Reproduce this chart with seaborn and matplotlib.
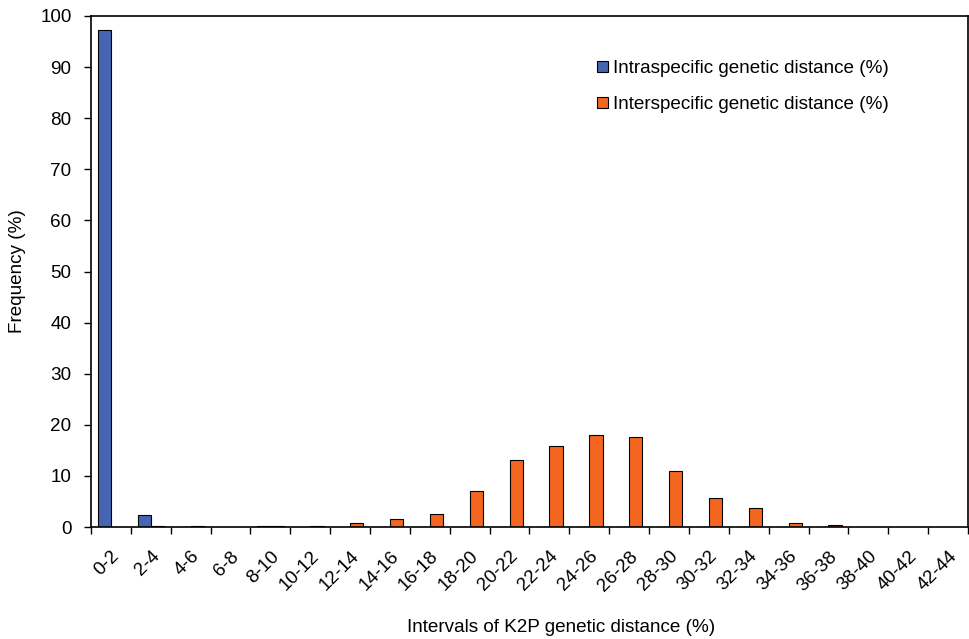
import matplotlib
matplotlib.use("Agg")
import matplotlib.pyplot as plt
import seaborn as sns
import pandas as pd
import numpy as np
from matplotlib.patches import Patch
from matplotlib.ticker import FixedLocator

intervals = ["0-2", "2-4", "4-6", "6-8", "8-10", "10-12", "12-14", "14-16", "16-18",
             "18-20", "20-22", "22-24", "24-26", "26-28", "28-30", "30-32", "32-34",
             "34-36", "36-38", "38-40", "40-42", "42-44"]
intra = [97.3, 2.4, 0.0, 0.0, 0.1, 0.0, 0.0, 0.0, 0.0, 0.0, 0.0, 0.0, 0.0, 0.0,
         0.0, 0.0, 0.0, 0.0, 0.0, 0.0, 0.0, 0.0]
inter = [0.0, 0.1, 0.1, 0.0, 0.1, 0.1, 0.7, 1.6, 2.5, 7.1, 13.1, 15.9, 18.1, 17.7,
         11.0, 5.7, 3.65, 0.8, 0.45, 0.0, 0.0, 0.0]
series_names = ["Intraspecific genetic distance (%)", "Interspecific genetic distance (%)"]
colors = ["#4565B2", "#F4661F"]

df = pd.DataFrame({
    "interval": intervals * 2,
    "freq": intra + inter,
    "series": [series_names[0]] * len(intervals) + [series_names[1]] * len(intervals),
})

sns.set_theme(style="white")
plt.rcParams["font.family"] = ["Liberation Sans", "DejaVu Sans"]
plt.rcParams["text.color"] = "black"
plt.rcParams["xtick.color"] = "black"
plt.rcParams["ytick.color"] = "black"
plt.rcParams["axes.labelcolor"] = "black"

FS = 13.6

fig = plt.figure(figsize=(9.7, 6.39), dpi=100)
ax = fig.add_axes([91/970, 1 - 527/639, (968 - 91)/970, (527 - 16)/639])

sns.barplot(data=df, x="interval", y="freq", hue="series", order=intervals,
            hue_order=series_names, palette=colors, saturation=1, width=0.667, gap=0,
            edgecolor="black", linewidth=0.8, ax=ax, legend=False)

ax.set_xlim(-0.5, len(intervals) - 0.5)
ax.set_ylim(0, 100)
ax.set_yticks(np.arange(0, 101, 10))
ax.tick_params(axis="y", direction="out", length=5, width=1, color="black",
               labelsize=FS, pad=9, left=True)
ax.set_xticks(range(len(intervals)))
ax.set_xticklabels(intervals, rotation=45, ha="right", va="top", rotation_mode="anchor")
ax.tick_params(axis="x", which="major", length=0, labelsize=FS, pad=15)
ax.xaxis.set_minor_locator(FixedLocator(np.arange(-0.5, len(intervals), 1.0)))
ax.tick_params(axis="x", which="minor", direction="out", length=5, width=1,
               color="black", bottom=True)
for s in ax.spines.values():
    s.set_visible(True)
    s.set_color("black")
    s.set_linewidth(1.2)

ax.set_xlabel("")
ax.set_ylabel("Frequency (%)", fontsize=FS, labelpad=10)
fig.text(561/970, 1 - 628/639, "Intervals of K2P genetic distance (%)",
         ha="center", va="center", fontsize=FS)

handles = [Patch(facecolor=c, edgecolor="black", linewidth=0.8) for c in colors]
ax.legend(handles, series_names, loc="upper left", bbox_to_anchor=(0.5685, 0.928),
          frameon=False, fontsize=FS, handlelength=0.55, handleheight=0.55,
          handletextpad=0.3, labelspacing=1.0, borderaxespad=0)

fig.savefig("out.png", dpi=100)
